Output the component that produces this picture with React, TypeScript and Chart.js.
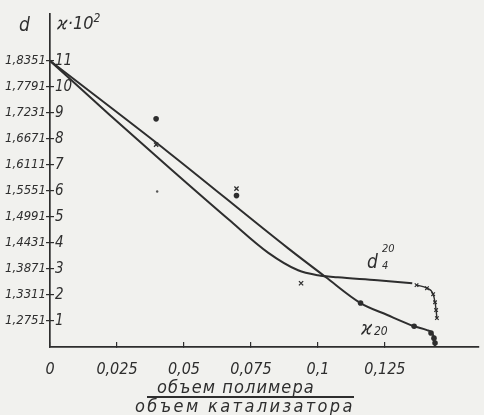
import React, { useEffect, useRef } from 'react';
import { Chart, registerables } from 'chart.js';

Chart.register(...registerables);

// ---- tick labels ----
const xTickLabels = ['0', '0,025', '0,05', '0,075', '0,1', '0,125'];
const kappaTickLabels = ['1', '2', '3', '4', '5', '6', '7', '8', '9', '10', '11'];
const dTickLabels = ['1,2751', '1,3311', '1,3871', '1,4431', '1,4991', '1,5551', '1,6111', '1,6671', '1,7231', '1,7791', '1,8351'];

// ---- curve ϰ20 (conductivity ×10²) ----
const kappaX = [0, 0.0444, 0.0889, 0.103, 0.1159, 0.1259, 0.1359, 0.1407, 0.1433, 0.1437];
const kappaY = [11.0, 7.47, 3.79, 2.68, 1.69, 1.23, 0.8, 0.65, 0.38, 0];

// ---- curve d4^20 (density, on the same scale divisions) ----
const densX = [0, 0.0222, 0.0444, 0.0667, 0.0815, 0.0926, 0.1, 0.1074, 0.1222, 0.1352];
const densY = [11.0, 8.93, 6.9, 4.9, 3.62, 2.95, 2.76, 2.68, 2.57, 2.45];

// ---- hooked tail of the density curve ----
const tailX = [0.1368, 0.1407, 0.143, 0.1437, 0.1441, 0.1444];
const tailY = [2.38, 2.26, 2.03, 1.72, 1.42, 1.11];

// ---- measured points ----
const dotX = [0.0396, 0.0696, 0.1159, 0.1359, 0.1422, 0.1433, 0.1437];
const dotY = [8.77, 5.82, 1.69, 0.8, 0.54, 0.34, 0.15];
const smallDotX = [0.04];
const smallDotY = [5.98];
const crossX = [0.0396, 0.0696, 0.0937];
const crossY = [7.78, 6.09, 2.45];

const zip = (xs: number[], ys: number[]) => xs.map((x, i) => ({ x, y: ys[i] }));

const FONT = "'DejaVu Sans Condensed', 'Liberation Sans Narrow', 'DejaVu Sans', sans-serif";
const INK = '#2e2e2e';
const BG = '#f1f1ee';

export default function App() {
  const ref = useRef<HTMLCanvasElement>(null);

  useEffect(() => {
    const isInt = (v: number) => Math.abs(v - Math.round(v)) < 1e-6;
    const chart = new Chart(ref.current as HTMLCanvasElement, {
      type: 'line',
      data: {
        datasets: [
          {
            data: zip(kappaX, kappaY),
            yAxisID: 'yK',
            borderColor: INK,
            borderWidth: 2,
            pointRadius: 0,
            cubicInterpolationMode: 'monotone',
            fill: false,
          },
          {
            data: zip(densX, densY),
            yAxisID: 'yK',
            borderColor: INK,
            borderWidth: 2,
            pointRadius: 0,
            cubicInterpolationMode: 'monotone',
            fill: false,
          },
          {
            data: zip(tailX, tailY),
            yAxisID: 'yK',
            borderColor: INK,
            borderWidth: 1.4,
            pointStyle: 'crossRot',
            pointRadius: 2.5,
            pointBorderColor: INK,
            pointBorderWidth: 1.2,
            cubicInterpolationMode: 'monotone',
            fill: false,
          },
          {
            data: zip(dotX, dotY),
            yAxisID: 'yK',
            showLine: false,
            pointStyle: 'circle',
            pointRadius: 2.8,
            pointBackgroundColor: INK,
            pointBorderColor: INK,
            pointBorderWidth: 0,
          },
          {
            data: zip(smallDotX, smallDotY),
            yAxisID: 'yK',
            showLine: false,
            pointStyle: 'circle',
            pointRadius: 1.2,
            pointBackgroundColor: '#555',
            pointBorderColor: '#555',
            pointBorderWidth: 0,
          },
          {
            data: zip(crossX, crossY),
            yAxisID: 'yK',
            showLine: false,
            pointStyle: 'crossRot',
            pointRadius: 3,
            pointBorderColor: INK,
            pointBorderWidth: 1.3,
          },
        ],
      },
      options: {
        animation: false,
        responsive: false,
        layout: { padding: { left: 0, right: 2, top: 13, bottom: 0 } },
        plugins: { legend: { display: false }, tooltip: { enabled: false } },
        scales: {
          x: {
            type: 'linear',
            min: 0,
            max: 0.16,
            afterFit: (s: any) => {
              s.height = 68;
            },
            grid: { drawOnChartArea: false, drawTicks: true, tickLength: -5, color: INK, lineWidth: 1.2 },
            border: { display: true, color: INK, width: 1.7 },
            ticks: {
              stepSize: 0.025,
              autoSkip: false,
              maxRotation: 0,
              padding: 18,
              color: INK,
              font: { family: FONT, size: 16, style: 'italic' },
              callback: (_v: any, i: number) => (i < xTickLabels.length ? xTickLabels[i] : null),
            },
          },
          yD: {
            type: 'linear',
            position: 'left',
            weight: 10,
            min: 0,
            max: 12.8,
            afterFit: (s: any) => {
              s.width = 50;
            },
            grid: { drawOnChartArea: false, drawTicks: true, tickLength: 4, color: INK, lineWidth: 1.2 },
            border: { display: true, color: INK, width: 1.7 },
            ticks: {
              stepSize: 1,
              autoSkip: false,
              padding: 0,
              color: INK,
              font: { family: FONT, size: 13, style: 'italic' },
              callback: (v: any) => {
                const n = Number(v);
                if (!isInt(n)) return null;
                const k = Math.round(n);
                return k >= 1 && k <= 11 ? dTickLabels[k - 1] : null;
              },
            },
          },
          yK: {
            type: 'linear',
            position: 'left',
            weight: 0,
            min: 0,
            max: 12.8,
            afterFit: (s: any) => {
              s.width = 0;
            },
            grid: { drawOnChartArea: false, drawTicks: true, tickLength: -4, color: INK, lineWidth: 1.2 },
            border: { display: false },
            ticks: {
              mirror: true,
              stepSize: 1,
              autoSkip: false,
              padding: 5,
              color: INK,
              font: { family: FONT, size: 15, style: 'italic' },
              callback: (v: any) => {
                const n = Number(v);
                if (!isInt(n)) return null;
                const k = Math.round(n);
                return k >= 1 && k <= 11 ? kappaTickLabels[k - 1] : null;
              },
            },
          },
        },
      },
    } as any);
    return () => chart.destroy();
  }, []);

  const txt = (size: number): React.CSSProperties => ({
    position: 'absolute',
    fontFamily: FONT,
    fontStyle: 'italic',
    fontSize: size,
    color: INK,
    lineHeight: 1,
    whiteSpace: 'nowrap',
  });

  return (
    <div style={{ position: 'fixed', left: 0, top: 0, width: 484, height: 415, background: BG, overflow: 'hidden' }}>
      <canvas ref={ref} width={484} height={415} style={{ position: 'absolute', left: 0, top: 0 }} />
      <div style={{ ...txt(19), left: 19, top: 15 }}>d</div>
      <div style={{ ...txt(18), left: 57, top: 14 }}>
        ϰ·10<span style={{ fontSize: 12, position: 'relative', top: -7 }}>2</span>
      </div>
      <div style={{ ...txt(19), left: 367, top: 252 }}>d</div>
      <div style={{ ...txt(11), left: 382, top: 243 }}>20</div>
      <div style={{ ...txt(11), left: 382, top: 260 }}>4</div>
      <div style={{ ...txt(19), left: 361, top: 318 }}>ϰ</div>
      <div style={{ ...txt(12), left: 374, top: 325 }}>20</div>
      <div style={{ ...txt(18), left: 157, top: 378, letterSpacing: 1.1 }}>объем полимера</div>
      <div style={{ position: 'absolute', left: 147, top: 396, width: 207, height: 1.5, background: INK }} />
      <div style={{ ...txt(18), left: 135, top: 397, letterSpacing: 2.4 }}>объем катализатора</div>
    </div>
  );
}
